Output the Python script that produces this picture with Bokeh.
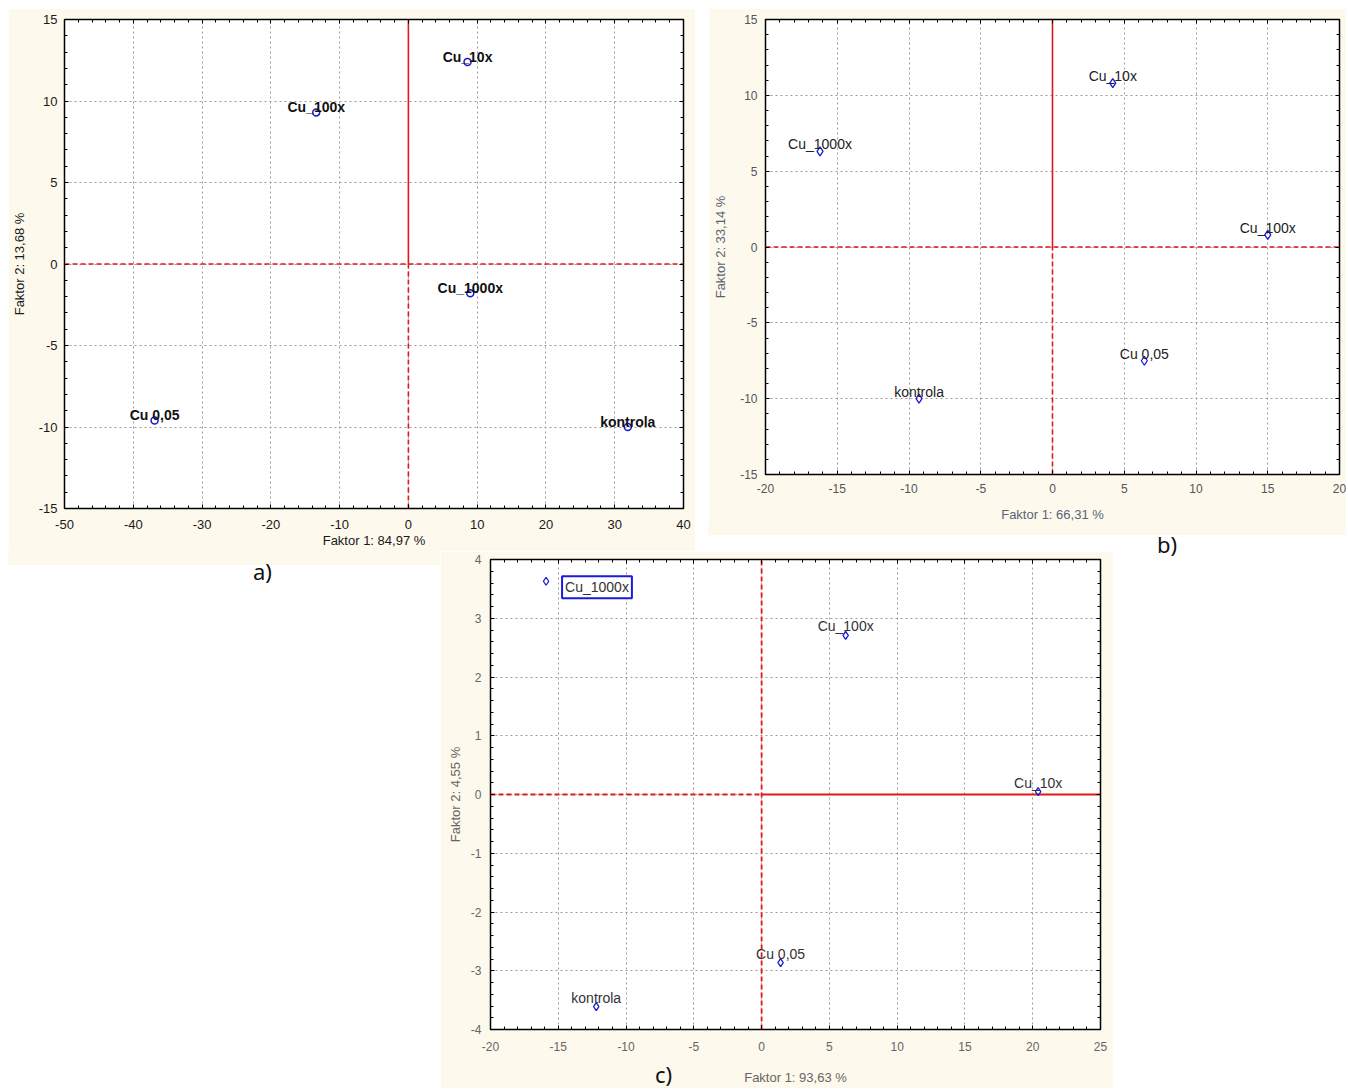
from bokeh.plotting import figure
from bokeh.models import (SingleIntervalTicker, LinearAxis, Label, Div, Spacer, Range1d, Grid,
                          CustomJSTickFormatter)
from bokeh.layouts import row, column
from bokeh.embed import file_html
from bokeh.resources import INLINE
from bokeh.core.properties import value

CREAM = "#fdf9ec"
RED = "#e01818"
BLUE = "#1a1ad0"

# ---------------- data ----------------
# panel a)
a_names = ["Cu_10x", "Cu_100x", "Cu_1000x", "Cu 0,05", "kontrola"]
a_x = [8.6, -13.4, 9.0, -36.9, 31.9]
a_y = [12.4, 9.3, -1.8, -9.6, -10.0]
a_xlabel = "Faktor 1: 84,97 %"
a_ylabel = "Faktor 2: 13,68 %"
a_xrange = (-50, 40)
a_yrange = (-15, 15)
a_xstep, a_ystep = 10, 5
a_tag = "a)"

# panel b)
b_names = ["Cu_10x", "Cu_1000x", "Cu_100x", "Cu 0,05", "kontrola"]
b_x = [4.2, -16.2, 15.0, 6.4, -9.3]
b_y = [10.8, 6.3, 0.8, -7.5, -10.0]
b_xlabel = "Faktor 1: 66,31 %"
b_ylabel = "Faktor 2: 33,14 %"
b_xrange = (-20, 20)
b_yrange = (-15, 15)
b_xstep, b_ystep = 5, 5
b_tag = "b)"

# panel c)
c_names = ["Cu_1000x", "Cu_100x", "Cu_10x", "Cu 0,05", "kontrola"]
c_x = [-15.9, 6.2, 20.4, 1.4, -12.2]
c_y = [3.63, 2.71, 0.05, -2.86, -3.61]
c_xlabel = "Faktor 1: 93,63 %"
c_ylabel = "Faktor 2: 4,55 %"
c_xrange = (-20, 25)
c_yrange = (-4, 4)
c_xstep, c_ystep = 5, 1
c_tag = "c)"
c_boxed = "Cu_1000x"


def make_panel(xr, yr, xstep, ystep, xlabel, ylabel, w, h, borders, st):
    left, right, top, bottom = borders
    p = figure(width=w, height=h, x_range=Range1d(*xr), y_range=Range1d(*yr),
               output_backend="svg", toolbar_location=None,
               x_axis_type=None, y_axis_type=None,
               min_border_left=left, min_border_right=right,
               min_border_top=top, min_border_bottom=bottom)
    p.background_fill_color = "white"
    p.border_fill_color = CREAM
    p.outline_line_color = "black"
    p.outline_line_width = 1.5

    xt = SingleIntervalTicker(interval=xstep, num_minor_ticks=5)
    yt = SingleIntervalTicker(interval=ystep, num_minor_ticks=5)
    fmt = CustomJSTickFormatter(code="return String(Math.round(tick));")

    common = dict(axis_line_color=None, major_tick_in=4, major_tick_out=0,
                  minor_tick_in=3, minor_tick_out=0,
                  major_tick_line_color="black", minor_tick_line_color="black",
                  major_label_text_font="Liberation Sans",
                  major_label_text_font_size=st["tick_size"],
                  major_label_text_color=st["tick_color"],
                  axis_label_text_font="Liberation Sans",
                  axis_label_text_font_size=st["title_size"],
                  axis_label_text_font_style="normal",
                  axis_label_text_color=st["title_color"])

    xa = LinearAxis(ticker=xt, formatter=fmt, axis_label=xlabel,
                    major_label_standoff=st["xls"], axis_label_standoff=st["xts"], **common)
    ya = LinearAxis(ticker=yt, formatter=fmt, axis_label=ylabel,
                    major_label_standoff=st["yls"], axis_label_standoff=st["yts"], **common)
    p.add_layout(xa, "below")
    p.add_layout(ya, "left")

    empty = CustomJSTickFormatter(code="return '';")
    blank = dict(axis_line_color=None, major_tick_in=4, major_tick_out=0,
                 minor_tick_in=3, minor_tick_out=0, formatter=empty,
                 major_tick_line_color="black", minor_tick_line_color="black",
                 major_label_text_font_size="8px", major_label_standoff=0)
    p.add_layout(LinearAxis(ticker=xt, **blank), "above")
    p.add_layout(LinearAxis(ticker=yt, **blank), "right")

    for dim, tk in ((0, xt), (1, yt)):
        p.add_layout(Grid(dimension=dim, ticker=tk, grid_line_color="#9a9a9a",
                          grid_line_dash="2 3", grid_line_width=1))
    return p


# ---------------- panel a ----------------
st_a = dict(tick_size="13px", tick_color="#1a1a1a", title_size="13px", title_color="#1a1a1a",
            xls=11, xts=1, yls=7, yts=9)
pa = make_panel(a_xrange, a_yrange, a_xstep, a_ystep, a_xlabel, a_ylabel,
                687, 543, (56, 12, 11, 43), st_a)
pa.segment(x0=[0], y0=[0], x1=[0], y1=[a_yrange[1]], line_color=RED, line_width=1.6)
pa.segment(x0=[0], y0=[a_yrange[0]], x1=[0], y1=[0], line_color=RED, line_width=1.6, line_dash="5 3")
pa.segment(x0=[a_xrange[0]], y0=[0], x1=[a_xrange[1]], y1=[0], line_color=RED, line_width=1.6, line_dash="5 3")
pa.scatter(a_x, a_y, marker="circle", size=7, fill_color=None, line_color=BLUE, line_width=1.5)
pa.text(x=a_x, y=a_y, text=a_names, text_align="center", text_baseline="alphabetic", y_offset=-5,
        text_font=value("Liberation Sans"), text_font_size="14px", text_font_style="bold",
        text_color="#111111")

# ---------------- panel b ----------------
st_b = dict(tick_size="12px", tick_color="#555555", title_size="13px", title_color="#5b6475",
            xls=9, xts=11, yls=8, yts=9)
pb = make_panel(b_xrange, b_yrange, b_xstep, b_ystep, b_xlabel, b_ylabel,
                638, 517, (57, 7, 11, 51), st_b)
pb.segment(x0=[0], y0=[0], x1=[0], y1=[b_yrange[1]], line_color=RED, line_width=1.6)
pb.segment(x0=[0], y0=[b_yrange[0]], x1=[0], y1=[0], line_color=RED, line_width=1.6, line_dash="5 3")
pb.segment(x0=[b_xrange[0]], y0=[0], x1=[b_xrange[1]], y1=[0], line_color=RED, line_width=1.6, line_dash="5 3")
pb.scatter(b_x, b_y, marker="diamond", size=9, fill_color=None, line_color=BLUE, line_width=1.3)
pb.text(x=b_x, y=b_y, text=b_names, text_align="center", text_baseline="alphabetic", y_offset=-7,
        text_font=value("Liberation Sans"), text_font_size="14px",
        text_color="#222222")

# ---------------- panel c ----------------
st_c = dict(tick_size="12px", tick_color="#666666", title_size="13px", title_color="#666666",
            xls=12, xts=16, yls=9, yts=5)
pc = make_panel(c_xrange, c_yrange, c_xstep, c_ystep, c_xlabel, c_ylabel,
                673, 537, (50, 13, 8, 59), st_c)
pc.segment(x0=[0], y0=[c_yrange[0]], x1=[0], y1=[c_yrange[1]], line_color=RED, line_width=1.8, line_dash="5 3")
pc.segment(x0=[c_xrange[0]], y0=[0], x1=[0], y1=[0], line_color=RED, line_width=1.8, line_dash="5 3")
pc.segment(x0=[0], y0=[0], x1=[c_xrange[1]], y1=[0], line_color=RED, line_width=2)
pc.scatter(c_x, c_y, marker="diamond", size=8, fill_color=None, line_color=BLUE, line_width=1.3)
plain = [i for i, n in enumerate(c_names) if n != c_boxed]
pc.text(x=[c_x[i] for i in plain], y=[c_y[i] for i in plain], text=[c_names[i] for i in plain],
        text_align="center", text_baseline="alphabetic", y_offset=-9,
        text_font=value("Liberation Sans"), text_font_size="14px", text_color="#333333")
bi = c_names.index(c_boxed)
pc.add_layout(Label(x=c_x[bi], y=c_y[bi], x_offset=16, y_offset=-6, text=c_names[bi],
                    text_align="left", text_baseline="middle", text_font="Liberation Sans",
                    text_font_size="14px", text_color="#333333",
                    border_line_color="#1a1ae0", border_line_width=2,
                    background_fill_color="white", padding=3))

# ---------------- layout ----------------
div_a = Div(text=(
    '<div style="position:relative;width:432px;height:537px;">'
    f'<div style="position:absolute;left:0;top:0;width:432px;height:14px;background:{CREAM};"></div>'
    '<span style="position:absolute;left:245px;top:9px;font-family:\'Noto Sans\';'
    f'font-size:22px;line-height:22px;color:#111;">{a_tag}</span></div>'),
    width=432, height=537, margin=0)

div_b = Div(text=(
    '<div style="position:relative;width:638px;height:26px;">'
    f'<div style="position:absolute;left:0;top:0;width:638px;height:10px;background:{CREAM};"></div>'
    '<span style="position:absolute;left:449px;top:8px;font-family:\'Noto Sans\';'
    f'font-size:22px;line-height:22px;color:#111;">{b_tag}</span></div>'),
    width=638, height=26, margin=0, styles={"overflow": "visible"})

# "c)" sits inside the bottom margin of panel c (negative left margin pulls it over)
div_c = Div(text=(
    '<span style="font-family:\'Noto Sans\';font-size:22px;line-height:22px;color:#111;'
    f'white-space:nowrap;">{c_tag}</span>'),
    width=20, height=22, margin=(512, 0, 0, -458), styles={"overflow": "visible"})

top = row(pa, Spacer(width=13, height=543), column(pb, div_b))
bottom = row(div_a, pc, div_c, Spacer(width=213, height=537))
layout = column(top, bottom, margin=(8, 0, 0, 8))

open("out.html", "w").write(file_html(layout, INLINE))
